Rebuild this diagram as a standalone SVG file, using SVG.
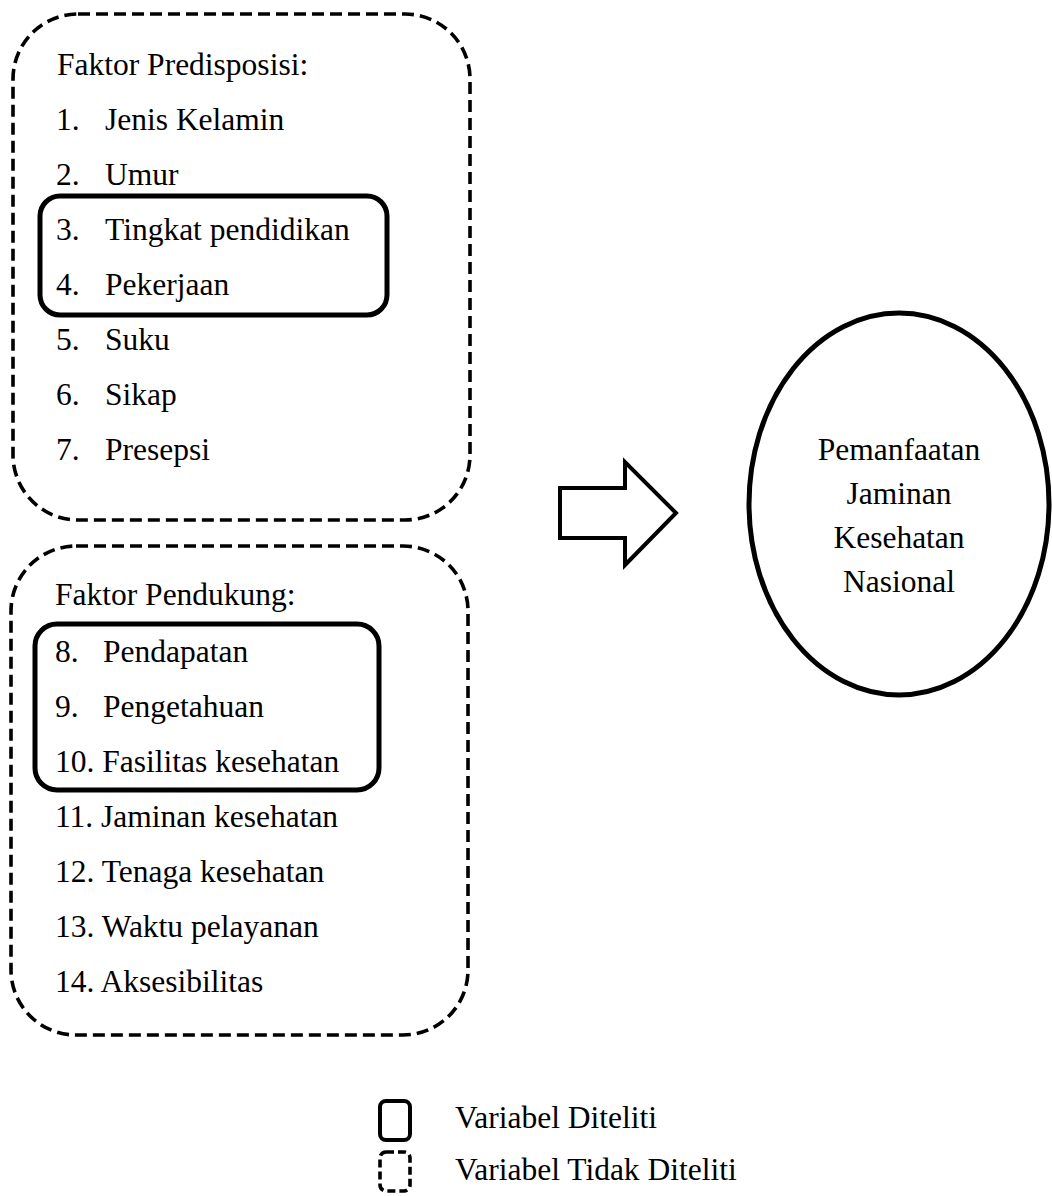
<svg xmlns="http://www.w3.org/2000/svg" width="1052" height="1196" viewBox="0 0 1052 1196">
<style>
  text { font-family: "Liberation Serif", "Times New Roman", serif; font-size: 31.5px; fill: #000; }
  .dash { fill: none; stroke: #000; stroke-width: 3.6; stroke-dasharray: 12 6; }
  .solid { fill: none; stroke: #000; stroke-width: 5; }
  .mid { text-anchor: middle; }
</style>
<rect width="1052" height="1196" fill="#fff"/>
<g id="predisposisi">
  <rect class="dash" x="13" y="14" width="457" height="506" rx="65" ry="65"/>
  <text x="57" y="75">Faktor Predisposisi:</text>
  <text x="56" y="130">1.</text><text x="105" y="130">Jenis Kelamin</text>
  <text x="56" y="185">2.</text><text x="105" y="185">Umur</text>
  <text x="56" y="240">3.</text><text x="105" y="240">Tingkat pendidikan</text>
  <text x="56" y="295">4.</text><text x="105" y="295">Pekerjaan</text>
  <text x="56" y="350">5.</text><text x="105" y="350">Suku</text>
  <text x="56" y="405">6.</text><text x="105" y="405">Sikap</text>
  <text x="56" y="460">7.</text><text x="105" y="460">Presepsi</text>
</g>
<g id="diteliti-1">
  <rect class="solid" x="40" y="196" width="347" height="119" rx="20" ry="20"/>
</g>
<g id="pendukung">
  <rect class="dash" x="11" y="546" width="457" height="489" rx="65" ry="65"/>
  <text x="55" y="605">Faktor Pendukung:</text>
  <text x="55" y="662">8.</text><text x="103" y="662">Pendapatan</text>
  <text x="55" y="717">9.</text><text x="103" y="717">Pengetahuan</text>
  <text x="55" y="772">10. Fasilitas kesehatan</text>
  <text x="55" y="827">11. Jaminan kesehatan</text>
  <text x="55" y="882">12. Tenaga kesehatan</text>
  <text x="55" y="937">13. Waktu pelayanan</text>
  <text x="55" y="992">14. Aksesibilitas</text>
</g>
<g id="diteliti-2">
  <rect class="solid" x="35" y="624" width="344" height="166" rx="22" ry="22"/>
</g>
<g id="connectors">
  <polygon points="560,488 625,488 625,462 676,513 625,565 625,538 560,538" fill="#fff" stroke="#000" stroke-width="4"/>
</g>
<g id="pemanfaatan">
  <ellipse cx="899" cy="504" rx="150" ry="191" fill="#fff" stroke="#000" stroke-width="5"/>
  <text class="mid" x="899" y="460">Pemanfaatan</text>
  <text class="mid" x="899" y="504">Jaminan</text>
  <text class="mid" x="899" y="548">Kesehatan</text>
  <text class="mid" x="899" y="592">Nasional</text>
</g>
<g id="legend">
  <rect x="380" y="1101" width="30" height="39" rx="6" ry="6" fill="none" stroke="#000" stroke-width="4"/>
  <rect x="380" y="1152" width="30" height="39" rx="6" ry="6" fill="none" stroke="#000" stroke-width="3.6" stroke-dasharray="8 4"/>
  <text x="455" y="1128">Variabel Diteliti</text>
  <text x="455" y="1180">Variabel Tidak Diteliti</text>
</g>
</svg>
